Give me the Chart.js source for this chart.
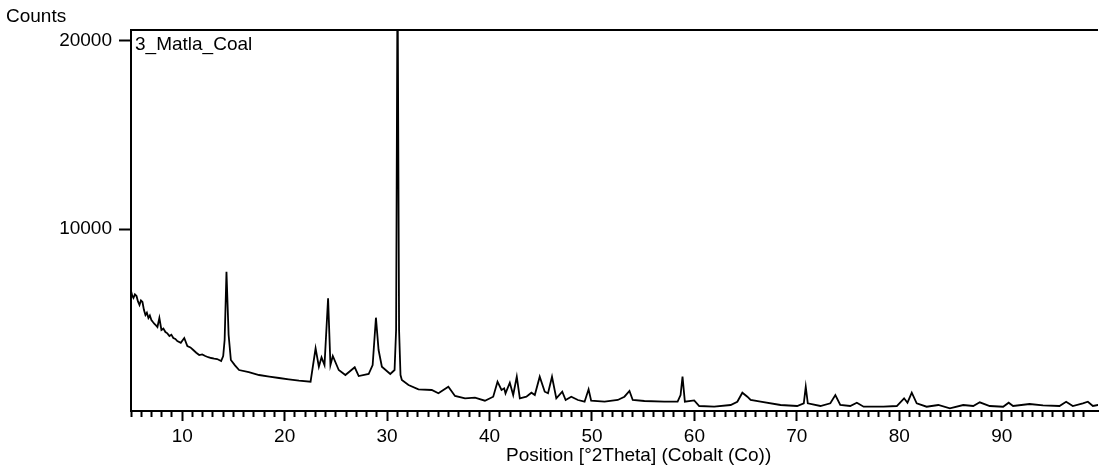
<!DOCTYPE html>
<html>
<head>
<meta charset="utf-8">
<script src="https://cdn.jsdelivr.net/npm/chart.js@4/dist/chart.umd.min.js"></script>
<style>
    body { margin: 0; background: #fff; }
    #wrap { position: relative; width: 1102px; height: 469px; }
    .lbl { position: absolute; font-family: "Liberation Sans", Arial, sans-serif; font-size: 19px; line-height: 19px; color: #000; white-space: nowrap; }
</style>
</head>
<body>
<div id="wrap">
    <canvas id="chart"></canvas>
    <div class="lbl" style="left:6px; top:6px;">Counts</div>
    <div class="lbl" style="left:135px; top:34px;">3_Matla_Coal</div>
    <div class="lbl" style="left:506px; top:445px;">Position [°2Theta] (Cobalt (Co))</div>
</div>
<script>
// 2Theta positions
let positions = [
    5.02, 5.12, 5.24, 5.38, 5.54, 5.68, 5.83, 5.97, 6.12, 6.26,
    6.41, 6.55, 6.70, 6.84, 6.99, 7.14, 7.29, 7.44, 7.58, 7.77,
    7.97, 8.16, 8.36, 8.55, 8.75, 8.94, 9.13, 9.33, 9.52, 9.86,
    10.2, 10.5, 10.8, 11.08, 11.37, 11.66, 11.95, 12.25, 12.54, 12.83,
    13.12, 13.41, 13.8, 14.0, 14.14, 14.32, 14.53, 14.75, 15.15, 15.55,
    16.5, 17.5, 18.5, 19.45, 20.4, 21.4, 22.53, 23.02, 23.34, 23.6,
    23.89, 24.24, 24.47, 24.7, 25.28, 25.93, 26.84, 27.23, 28.2, 28.59,
    28.91, 29.17, 29.49, 30.31, 30.73, 30.88, 31.02, 31.17, 31.31, 31.44,
    32.09, 33.06, 34.36, 35.01, 35.98, 36.63, 37.61, 38.58, 39.55, 40.36,
    40.78, 41.17, 41.43, 41.56, 41.98, 42.31, 42.66, 42.96, 43.6, 44.09,
    44.42, 44.9, 45.39, 45.71, 46.1, 46.52, 47.1, 47.43, 47.98, 48.63,
    49.28, 49.67, 49.92, 51.23, 52.52, 53.17, 53.66, 53.98, 55.12, 57.06,
    58.36, 58.65, 58.84, 59.07, 59.98, 60.47, 61.93, 63.54, 64.19, 64.68,
    65.17, 65.49, 66.46, 68.41, 70.03, 70.68, 70.87, 71.07, 72.3, 73.27,
    73.76, 74.24, 75.21, 75.86, 76.52, 78.46, 79.76, 80.47, 80.8, 81.22,
    81.7, 82.67, 83.81, 84.94, 86.24, 87.22, 87.86, 88.83, 90.14, 90.68,
    91.11, 92.72, 94.03, 95.64, 96.29, 96.94, 97.92, 98.41, 98.9, 99.41
];
let counts = [
    6665, 6450, 6330, 6520, 6436, 6150, 5958, 6200, 6117, 5700,
    5426, 5550, 5266, 5400, 5160, 5050, 4947, 4870, 4787, 5266,
    4628, 4700, 4522, 4450, 4309, 4380, 4203, 4150, 4043, 3950,
    4203, 3777, 3700, 3564, 3420, 3298, 3330, 3245, 3180, 3139,
    3110, 3086, 2979, 3245, 4096, 7729, 4362, 3032, 2750, 2500,
    2390, 2235, 2150, 2075, 2000, 1931, 1878, 3655, 2676, 3176,
    2766, 6314, 2766, 3245, 2500, 2235, 2644, 2181, 2288, 2766,
    5283, 3564, 2676, 2288, 2500, 4628, 24000, 4628, 2235, 1969,
    1703, 1474, 1437, 1261, 1612, 1118, 995, 1027, 867, 1080,
    1878, 1437, 1527, 1261, 1825, 1171, 2144, 995, 1080, 1293,
    1171, 2144, 1346, 1261, 2144, 995, 1346, 905, 1080, 905,
    814, 1474, 867, 814, 905, 1080, 1383, 905, 852, 814,
    814, 1171, 2144, 814, 880, 586, 548, 639, 814, 1293,
    1080, 905, 814, 639, 586, 729, 1612, 729, 586, 729,
    1171, 639, 586, 761, 548, 548, 586, 995, 761, 1293,
    729, 548, 639, 463, 639, 586, 782, 586, 548, 761,
    586, 692, 622, 586, 814, 586, 729, 814, 586, 639
];
let yTicks = [10000, 20000];
let xRange = [5, 99.4];
let yRange = [320, 20585];

let font = { family: '"Liberation Sans", Arial, sans-serif', size: 19 };

// top frame line
let frameTop = {
    id: 'frameTop',
    afterDraw(chart) {
        let a = chart.chartArea;
        let ctx = chart.ctx;
        ctx.save();
        ctx.strokeStyle = '#000';
        ctx.lineWidth = 2;
        ctx.beginPath();
        ctx.moveTo(a.left - 1, a.top);
        ctx.lineTo(a.right, a.top);
        ctx.stroke();
        ctx.restore();
    }
};

let chart = new Chart(document.getElementById("chart").getContext("2d"), {
    type: 'line',
    data: {
        datasets: [{
            data: positions.map((p, i) => ({ x: p, y: counts[i] })),
            borderColor: '#000',
            borderWidth: 1.8,
            pointRadius: 0,
            tension: 0,
            fill: false,
            clip: 0
        }]
    },
    options: {
        responsive: true,
        maintainAspectRatio: false,
        animation: false,
        layout: { padding: { top: 30, left: 0, right: 0, bottom: 0 } },
        plugins: { legend: { display: false }, tooltip: { enabled: false } },
        scales: {
            x: {
                type: 'linear',
                min: xRange[0],
                max: xRange[1],
                afterFit(scale) { scale.height = 58; },
                border: { display: true, color: '#000', width: 2 },
                grid: {
                    drawOnChartArea: false,
                    tickLength: 10,
                    tickWidth: 2,
                    tickColor: c => Number.isInteger(c.tick.value) ? '#000' : 'rgba(0,0,0,0)',
                    tickBorderDash: c => c.tick.value % 10 === 0 ? [] : [5, 30]
                },
                ticks: {
                    stepSize: 1,
                    autoSkip: false,
                    maxRotation: 0,
                    padding: 4,
                    color: '#000',
                    font: font,
                    callback: v => v % 10 === 0 ? String(v) : ''
                }
            },
            y: {
                type: 'linear',
                min: yRange[0],
                max: yRange[1],
                afterFit(scale) { scale.width = 131; },
                afterBuildTicks(scale) { scale.ticks = yTicks.map(v => ({ value: v })); },
                border: { display: true, color: '#000', width: 2 },
                grid: {
                    drawOnChartArea: false,
                    tickLength: 12,
                    tickWidth: 2,
                    tickColor: '#000'
                },
                ticks: {
                    padding: 7,
                    color: '#000',
                    font: font,
                    callback: v => String(v)
                }
            }
        }
    },
    plugins: [frameTop]
});
</script>
</body>
</html>
